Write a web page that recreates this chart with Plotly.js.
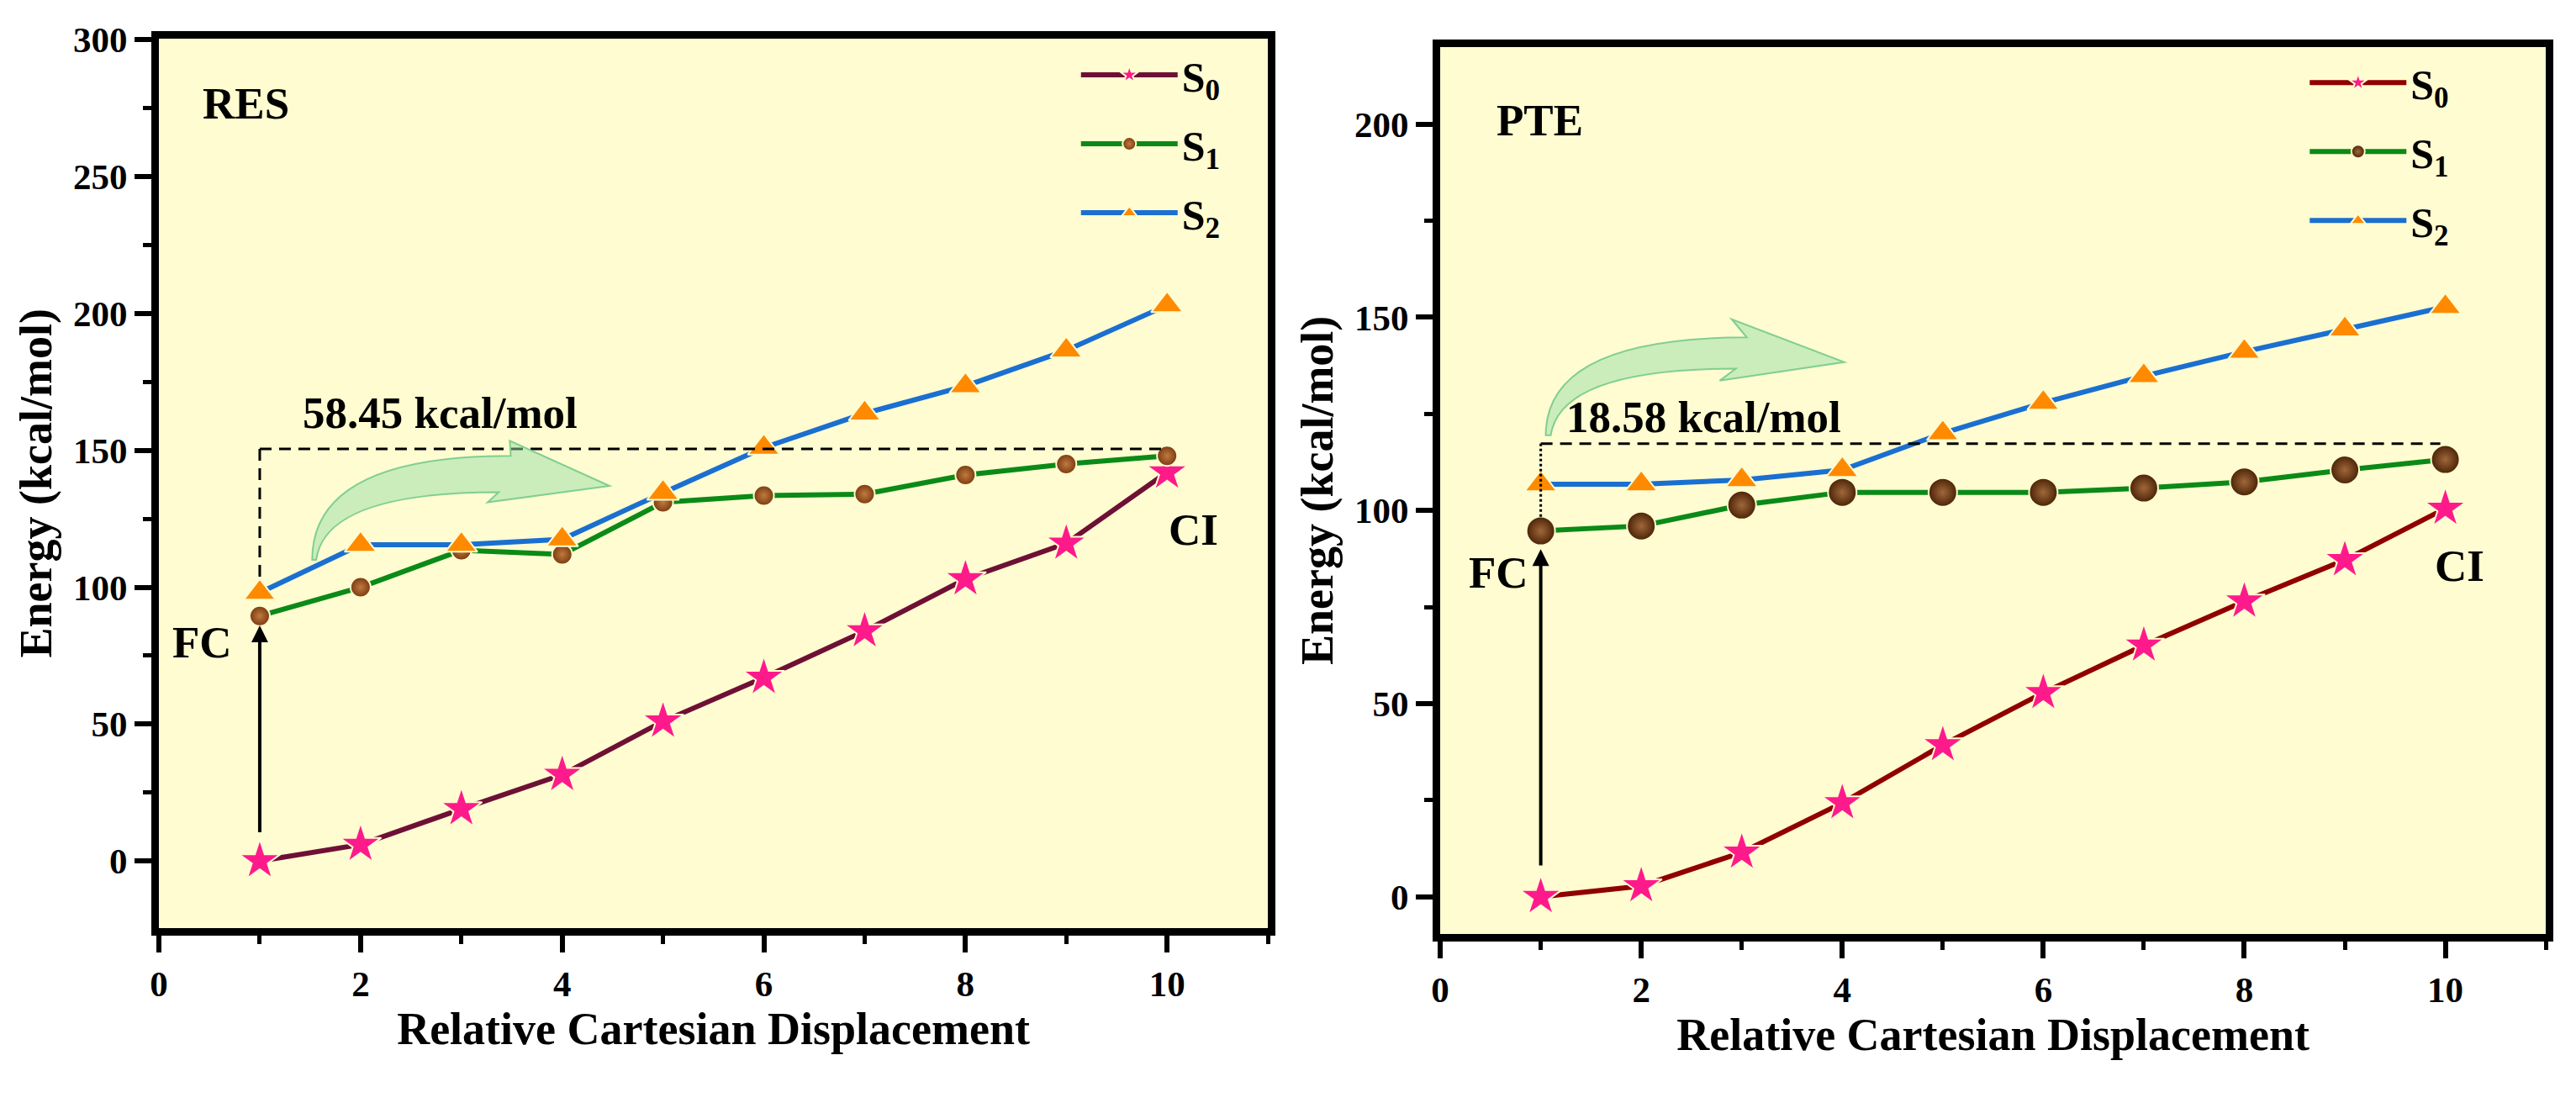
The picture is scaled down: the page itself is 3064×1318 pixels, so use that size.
<!DOCTYPE html>
<html>
<head>
<meta charset="utf-8">
<script src="https://cdn.plot.ly/plotly-3.0.1.min.js"></script>
<style>
  html, body { margin: 0; padding: 0; background: #fff; }
  #chart { width: 3064px; height: 1318px; }
</style>
</head>
<body>
<div id="chart"></div>
<script>
// displacement steps (shared by both panels)
const steps = [1, 2, 3, 4, 5, 6, 7, 8, 9, 10];

// RES panel (kcal/mol)
const resS0 = [0, 6, 19, 31.5, 51, 67, 84, 103, 116, 142];
const resS1 = [89.5, 100, 113.5, 112, 131, 133.5, 134, 141, 145, 148];
const resS2 = [98, 115.5, 115.5, 117.5, 134.5, 151, 163.5, 173.5, 186.5, 203];

// PTE panel (kcal/mol)
const pteS0 = [0, 2.8, 11.5, 24.3, 39.3, 52.8, 65.1, 76.5, 87.2, 100.5];
const pteS1 = [94.7, 96, 101.4, 104.7, 104.7, 104.7, 105.8, 107.4, 110.5, 113.2];
const pteS2 = [106.8, 106.8, 107.9, 110.5, 120, 127.9, 134.8, 141.1, 146.9, 152.7];

const stateNames = ['S<sub>0</sub>', 'S<sub>1</sub>', 'S<sub>2</sub>'];

const serif = '"Liberation Serif", "Times New Roman", serif';
const bg = '#fefcd0';
const halo = { color: bg, width: 2 };

function starMarker() {
  return { symbol: 'star', size: 37, color: '#ff1a8c', line: halo };
}
function triMarker() {
  return { symbol: 'triangle-up', size: 33, color: '#ff8a00', line: halo };
}
function ballMarker(size, edge, center) {
  return { symbol: 'circle', size, color: edge, gradient: { type: 'radial', color: center }, line: halo };
}

function series(x, y, name, lineColor, marker, xa, ya, legend) {
  return {
    x, y, name,
    type: 'scatter',
    mode: 'lines+markers',
    line: { color: lineColor, width: 6 },
    marker,
    xaxis: xa, yaxis: ya,
    legend,
    legendgroup: legend + name,
    hoverinfo: 'x+y'
  };
}

const traces = [
  series(steps, resS0, stateNames[0], '#6e1035', starMarker(), 'x', 'y', 'legend'),
  series(steps, resS1, stateNames[1], '#0b8a17', ballMarker(24, '#7a3a10', '#c07a40'), 'x', 'y', 'legend'),
  series(steps, resS2, stateNames[2], '#1a6fd1', triMarker(), 'x', 'y', 'legend'),
  series(steps, pteS0, stateNames[0], '#900000', starMarker(), 'x2', 'y2', 'legend2'),
  series(steps, pteS1, stateNames[1], '#0b8a17', ballMarker(34, '#4a2306', '#a0673a'), 'x2', 'y2', 'legend2'),
  series(steps, pteS2, stateNames[2], '#1a6fd1', triMarker(), 'x2', 'y2', 'legend2')
];

const tickFont = { family: serif, size: 43, weight: 'bold', color: '#000' };
const titleFont = { family: serif, size: 54, weight: 'bold', color: '#000' };

function xAxis(domain, anchor) {
  return {
    domain, anchor,
    range: [0, 11], tick0: 0, dtick: 2,
    ticks: 'outside', ticklen: 20, tickwidth: 6, tickcolor: '#000',
    minor: { dtick: 1, ticks: 'outside', ticklen: 10, tickwidth: 5, tickcolor: '#000', showgrid: false },
    showline: true, linewidth: 9, linecolor: '#000', mirror: true,
    showgrid: false, zeroline: false,
    tickfont: tickFont,
    title: { text: 'Relative Cartesian Displacement', font: titleFont, standoff: 8 }
  };
}
function yAxis(domain, anchor, range, top) {
  return {
    domain, anchor, range,
    tick0: 0, dtick: 50,
    tickvals: Array.from({ length: top / 50 + 1 }, (_, i) => i * 50),
    ticks: 'outside', ticklen: 20, tickwidth: 6, tickcolor: '#000',
    minor: { dtick: 25, ticks: 'outside', ticklen: 10, tickwidth: 5, tickcolor: '#000', showgrid: false },
    showline: true, linewidth: 9, linecolor: '#000', mirror: true,
    showgrid: false, zeroline: false,
    tickfont: tickFont,
    title: { text: 'Energy (kcal/mol)', font: titleFont, standoff: 12 }
  };
}

function label(text, x, y, xref, yref) {
  return { text, x, y, xref, yref, showarrow: false, font: { family: serif, size: 53, weight: 'bold', color: '#000' } };
}
function upArrow(x, y0, y1, xref, yref) {
  return { text: '', x, y: y1, ax: x, ay: y0, xref, yref, axref: xref, ayref: yref,
    showarrow: true, arrowhead: 2, arrowsize: 1, arrowwidth: 4, arrowcolor: '#000' };
}

const greenFill = 'rgba(150,222,165,0.5)';
const greenLine = 'rgba(110,200,135,0.85)';

const shapes = [
  // RES guide lines
  { type: 'line', xref: 'x', yref: 'y', x0: 1, x1: 10, y0: 150.5, y1: 150.5, line: { color: '#000', width: 3, dash: '14px,9px' } },
  { type: 'line', xref: 'x', yref: 'y', x0: 1, x1: 1, y0: 150.5, y1: 103, line: { color: '#000', width: 3, dash: '14px,9px' } },
  { type: 'path', xref: 'x', yref: 'y', layer: 'above',
    path: 'M 1.52,110 Q 1.52,148 3.49,148 L 3.48,153.5 L 4.47,137 L 3.26,131 L 3.37,134.7 Q 1.65,134.7 1.56,110 Z',
    fillcolor: greenFill, line: { color: greenLine, width: 2 } },
  // PTE guide lines
  { type: 'line', xref: 'x2', yref: 'y2', x0: 1, x1: 9.95, y0: 117.3, y1: 117.3, line: { color: '#000', width: 3, dash: '14px,9px' } },
  { type: 'line', xref: 'x2', yref: 'y2', x0: 1, x1: 1, y0: 117.3, y1: 98, line: { color: '#000', width: 3, dash: 'dot' } },
  { type: 'path', xref: 'x2', yref: 'y2', layer: 'above',
    path: 'M 1.05,119.5 Q 1.05,144.8 3.05,144.8 L 2.9,149.5 L 4.02,138.4 L 2.78,133.6 L 2.94,136.7 Q 1.2,136.7 1.1,119.5 Z',
    fillcolor: greenFill, line: { color: greenLine, width: 2 } }
];

const annotations = [
  label('RES', 0.86, 276.6, 'x', 'y'),
  label('58.45 kcal/mol', 2.79, 163.8, 'x', 'y'),
  label('FC', 0.43, 80, 'x', 'y'),
  label('CI', 10.26, 121, 'x', 'y'),
  upArrow(1, 10, 86, 'x', 'y'),
  label('PTE', 0.99, 201, 'x2', 'y2'),
  label('18.58 kcal/mol', 2.62, 124.1, 'x2', 'y2'),
  label('FC', 0.58, 83.9, 'x2', 'y2'),
  label('CI', 10.14, 85.7, 'x2', 'y2'),
  upArrow(1, 7.8, 90, 'x2', 'y2')
];

const legendStyle = {
  font: { family: serif, size: 50, weight: 'bold', color: '#000' },
  bgcolor: 'rgba(0,0,0,0)',
  itemwidth: 115,
  tracegroupgap: 14,
  xanchor: 'left', yanchor: 'top'
};

const layout = {
  width: 3064,
  height: 1318,
  margin: { l: 0, r: 0, t: 0, b: 0 },
  paper_bgcolor: '#ffffff',
  plot_bgcolor: bg,
  showlegend: true,
  xaxis: xAxis([0.0617, 0.4922], 'y'),
  yaxis: yAxis([0.1624, 0.9654], 'x', [-24.5, 300.5], 300),
  xaxis2: xAxis([0.5591, 0.9883], 'y2'),
  yaxis2: yAxis([0.1571, 0.9577], 'x2', [-9.6, 220], 200),
  legend: { ...legendStyle, x: 0.418, y: 0.962 },
  legend2: { ...legendStyle, x: 0.895, y: 0.955 },
  shapes,
  annotations
};

Plotly.newPlot('chart', traces, layout, { displayModeBar: false, staticPlot: true });
</script>
</body>
</html>
